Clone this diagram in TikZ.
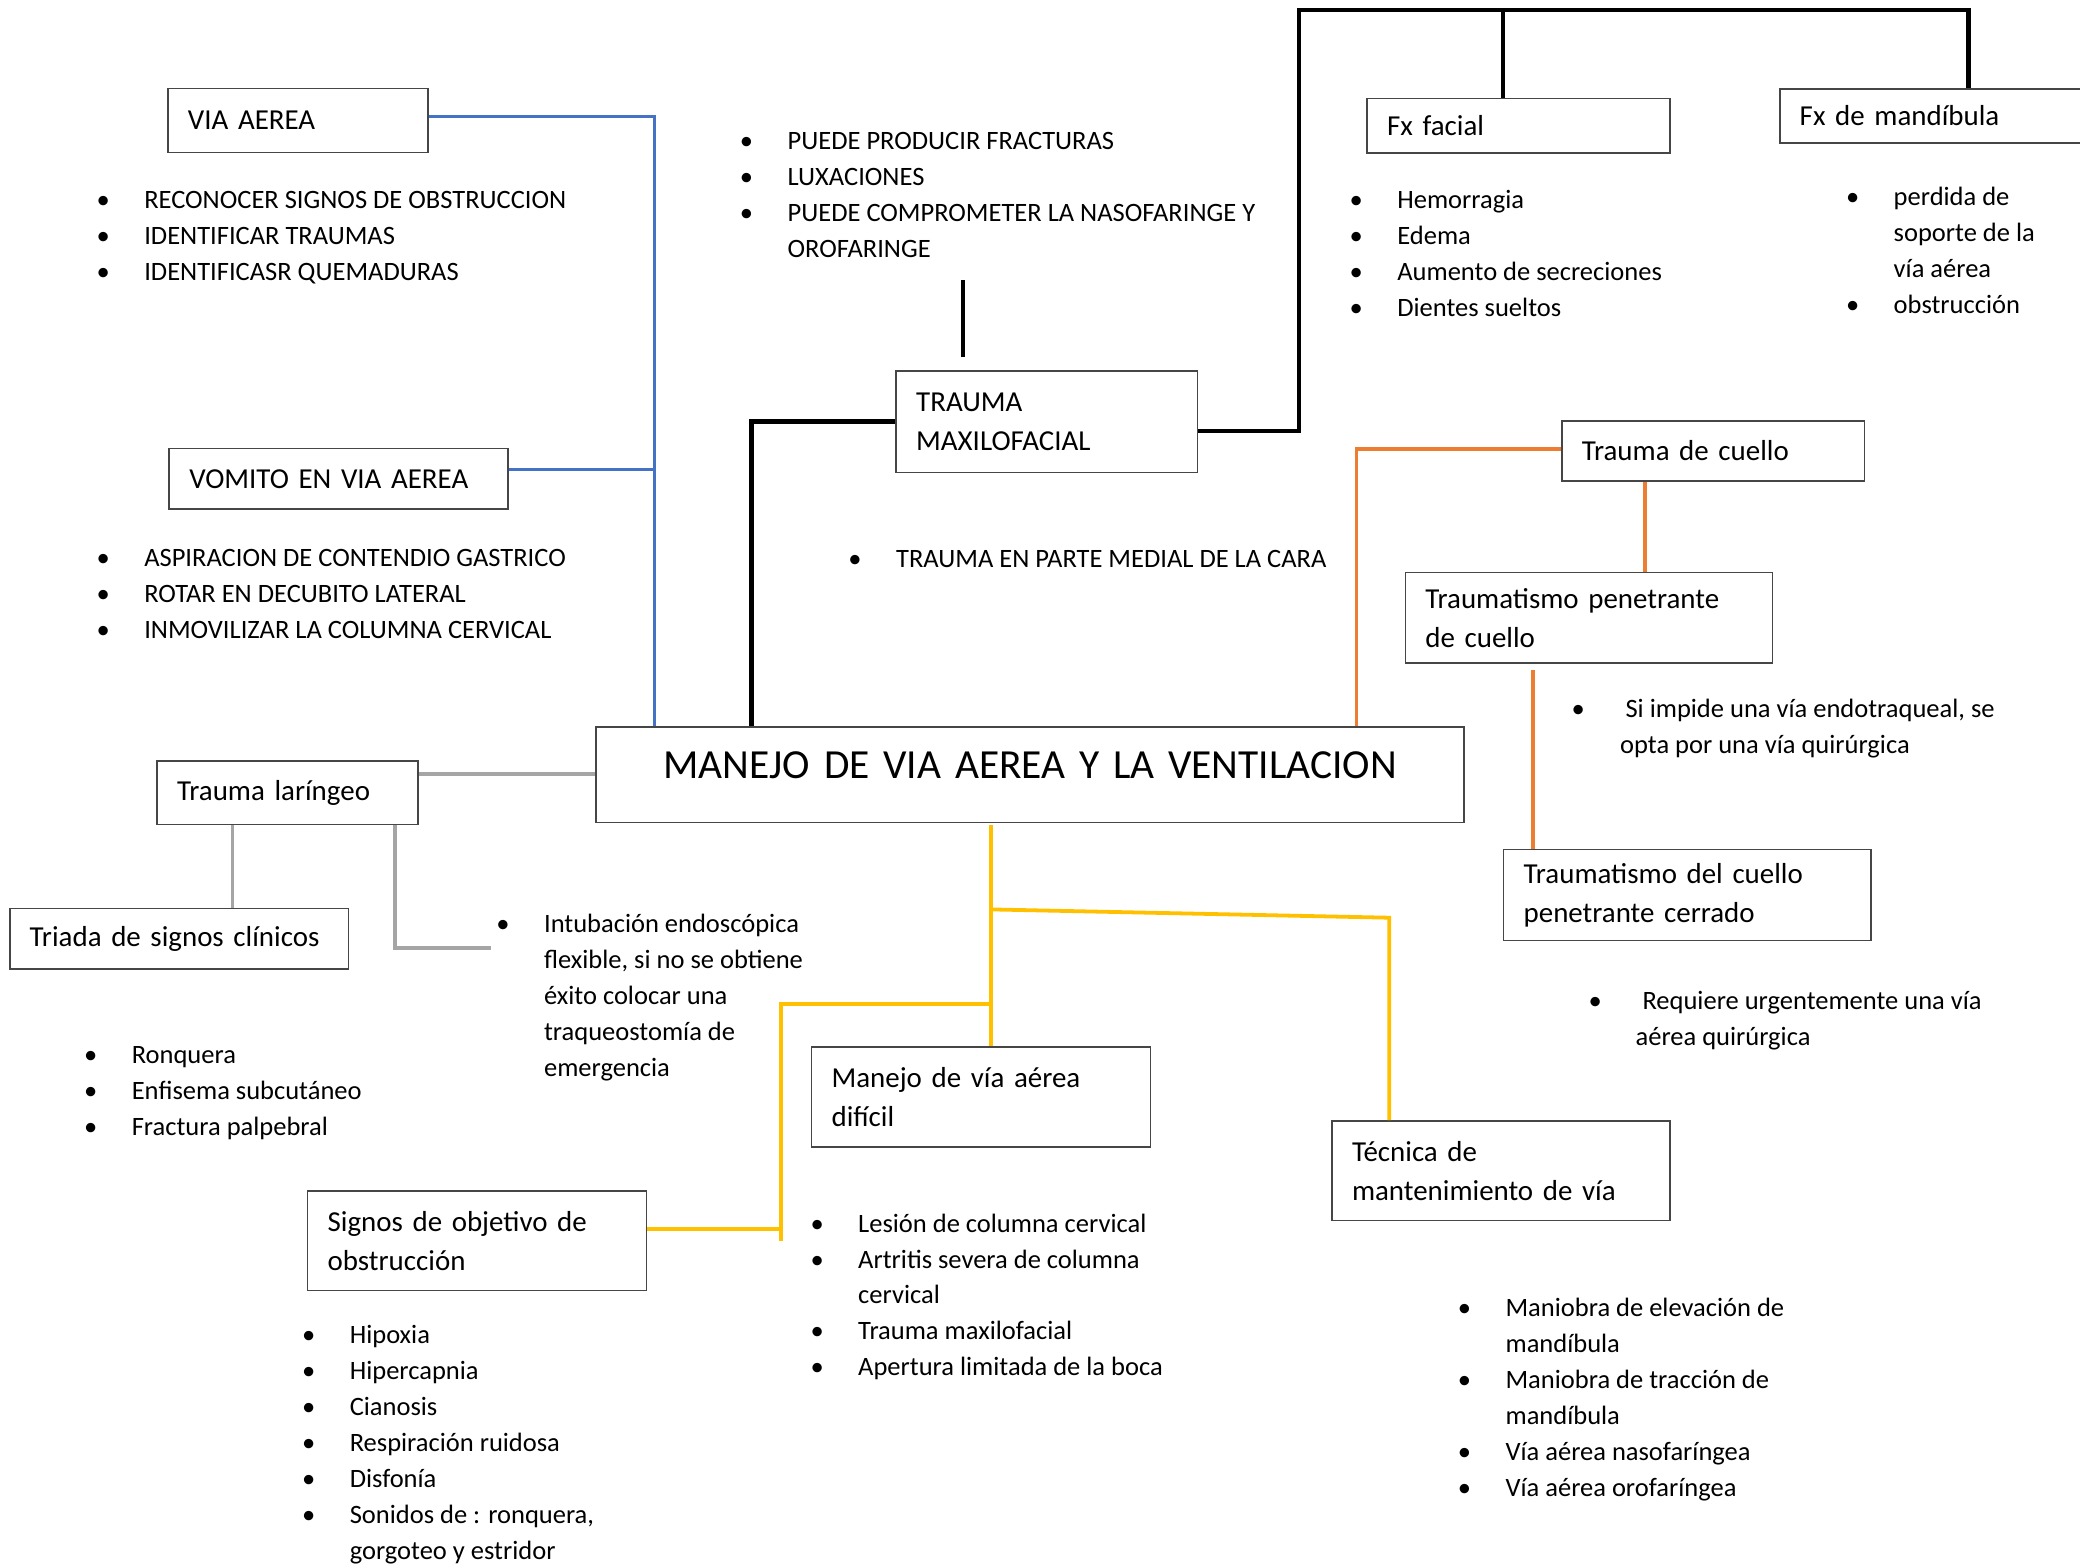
\documentclass[tikz,border=0pt]{standalone}
\usepackage{fontspec}
\setmainfont{Carlito}
\usepackage{color}
\definecolor{azulof}{RGB}{68,114,196}
\definecolor{naranjaof}{RGB}{237,125,49}
\definecolor{amarillof}{RGB}{255,192,0}
\definecolor{grisof}{RGB}{165,165,165}
\definecolor{bordeof}{RGB}{70,70,70}
\usepackage{tikz}
\usetikzlibrary{calc,positioning}
\tikzstyle{caja}=[draw=bordeof,line width=0.6pt,anchor=north west,inner xsep=0.26cm,inner ysep=0pt,align=left,font=\fontsize{10.7}{14.4}\selectfont]
\tikzstyle{lista}=[anchor=base west,inner sep=0pt,align=left,font=\fontsize{9.8}{13.3}\selectfont]
\tikzstyle{azul}=[draw=azulof,line width=1.2pt]
\tikzstyle{negra}=[draw=black,line width=1.7pt]
\tikzstyle{naranja}=[draw=naranjaof,line width=1.4pt]
\tikzstyle{amarilla}=[draw=amarillof,line width=1.4pt]
\tikzstyle{gris}=[draw=grisof,line width=1.3pt]
\newcommand{\bl}[1][0.62cm]{\makebox[#1][l]{\textbullet}}
\newcommand{\sg}[1][0.62cm]{\hspace*{#1}}

\begin{document}
\begin{tikzpicture}[x=0.017245cm,y=-0.017245cm]
\useasboundingbox (0,0) rectangle (1568,1179);
% cajas
\node [caja,text width=2.863cm,minimum height=0.836cm] (via) at (126,66) {VIA AEREA};
\node [caja,text width=3.880cm,minimum height=0.785cm] (vomito) at (127,337.5) {VOMITO EN VIA AEREA};
\node [caja,text width=3.397cm,minimum height=1.319cm] (trauma) at (675,279) {TRAUMA\\MAXILOFACIAL};
\node [caja,text width=3.414cm,minimum height=0.704cm] (fxfacial) at (1030,73.7) {Fx facial};
\node [caja,text width=3.483cm,minimum height=0.702cm] (fxmand) at (1341,66.3) {Fx de mandíbula};
\node [caja,text width=3.414cm,minimum height=0.779cm] (cuello) at (1176.7,316.8) {Trauma de cuello};
\node [caja,text width=4.251cm,minimum height=1.173cm] (pen) at (1058.8,431) {Traumatismo penetrante\\de cuello};
\node [caja,text width=4.251cm,minimum height=1.181cm] (cerrado) at (1132.9,639.9) {Traumatismo del cuello\\penetrante cerrado};
\node [caja,text width=10.763cm,minimum height=1.247cm,align=center,text height=0.5cm,text depth=0.406cm,font=\fontsize{15.3}{18}\selectfont] (manejo) at (448.8,547.2) {MANEJO DE VIA AEREA Y LA VENTILACION};
\node [caja,text width=2.875cm,minimum height=0.828cm] (laringeo) at (117.8,573) {Trauma laríngeo};
\node [caja,text width=3.886cm,minimum height=0.788cm] (triada) at (6.7,684.3) {Triada de signos clínicos};
\node [caja,text width=3.886cm,minimum height=1.297cm] (dificil) at (611.2,788.6) {Manejo de vía aérea\\difícil};
\node [caja,text width=3.877cm,minimum height=1.297cm] (tecnica) at (1003.5,844.3) {Técnica de\\mantenimiento de vía};
\node [caja,text width=3.886cm,minimum height=1.297cm] (signos) at (231.3,897) {Signos de objetivo de\\obstrucción};

% listas (ancladas en la ultima linea)
\node [lista] (lvia) at (72.4,211.4) {\bl RECONOCER SIGNOS DE OBSTRUCCION\\\bl IDENTIFICAR TRAUMAS\\\bl IDENTIFICASR QUEMADURAS};
\node [lista] (lvomito) at (72.4,481.4) {\bl ASPIRACION DE CONTENDIO GASTRICO\\\bl ROTAR EN DECUBITO LATERAL\\\bl INMOVILIZAR LA COLUMNA CERVICAL};
\node [lista] (lfract) at (557.4,194.2) {\bl PUEDE PRODUCIR FRACTURAS\\\bl LUXACIONES\\\bl PUEDE COMPROMETER LA NASOFARINGE Y\\\sg OROFARINGE};
\node [lista] (lmedial) at (639.2,427.9) {\bl TRAUMA EN PARTE MEDIAL DE LA CARA};
\node [lista] (lfacial) at (1017,238.3) {\bl Hemorragia\\\bl Edema\\\bl Aumento de secreciones\\\bl Dientes sueltos};
\node [lista] (lmand) at (1391.2,236.6) {\bl perdida de\\\sg soporte de la\\\sg vía aérea\\\bl obstrucción};
\node [lista] (limpide) at (1184.4,567.8) {\bl[0.70cm]Si impide una vía endotraqueal, se\\\sg[0.63cm]opta por una vía quirúrgica};
\node [lista] (lurge) at (1197.2,788) {\bl[0.70cm]Requiere urgentemente una vía\\\sg[0.61cm]aérea quirúrgica};
\node [lista] (lintub) at (373.8,811.2) {\bl Intubación endoscópica\\\sg flexible, si no se obtiene\\\sg éxito colocar una\\\sg traqueostomía de\\\sg emergencia};
\node [lista] (ltriada) at (63,855.7) {\bl Ronquera\\\bl Enfisema subcutáneo\\\bl Fractura palpebral};
\node [lista] (ldificil) at (610.6,1037.2) {\bl Lesión de columna cervical\\\bl Artritis severa de columna\\\sg cervical\\\bl Trauma maxilofacial\\\bl Apertura limitada de la boca};
\node [lista] (lsignos) at (227.3,1175.6) {\bl Hipoxia\\\bl Hipercapnia\\\bl Cianosis\\\bl Respiración ruidosa\\\bl Disfonía\\\bl Sonidos de : ronquera,\\\sg gorgoteo y estridor};
\node [lista] (ltecnica) at (1098.6,1127.8) {\bl Maniobra de elevación de\\\sg mandíbula\\\bl Maniobra de tracción de\\\sg mandíbula\\\bl Vía aérea nasofaríngea\\\bl Vía aérea orofaríngea};

% conectores
\coordinate (ba) at ($(manejo.north west)+(44.8,0)$);
\draw [azul] ([yshift=1.5pt]via.east) -| (ba);
\draw [azul] ([yshift=3.4pt]vomito.east) -- ([yshift=3.4pt]vomito.east -| ba);

\coordinate (bn) at ($(manejo.north west)+(117.6,0)$);
\coordinate (tope) at (979.2,7.4);
\coordinate (fx1) at ($(fxfacial.north west)+(103,0)$);
\coordinate (fx2) at ($(fxmand.north west)+(143,0)$);
\draw [negra] (bn) |- (trauma.west);
\draw [negra] ([yshift=-3.5pt]trauma.east) -| (tope) -- (tope -| fx2) -- (fx2);
\draw [negra] (tope -| fx1) -- (fx1);
\draw [negra] ($(trauma.north west)+(51,-10)$) -- ($(trauma.north west)+(51,-68)$);

\coordinate (na) at ($(manejo.north west)+(573.8,0)$);
\coordinate (c1) at ($(cuello.south west)+(63.6,0)$);
\coordinate (c2) at ($(pen.south west)+(96.7,5)$);
\draw [naranja] (na) |- ([yshift=0.8pt]cuello.west);
\draw [naranja] (c1) -- (c1 |- pen.north);
\draw [naranja] (c2) -- (c2 |- cerrado.north);

\coordinate (g1) at ($(laringeo.south west)+(57.6,0)$);
\coordinate (g2) at ($(laringeo.south west)+(179.8,0)$);
\coordinate (gi) at ($(lintub.base west)+(-3.4,-96.5)$);
\draw [gris] ([yshift=6.9pt]laringeo.east) -- ([yshift=6.9pt]laringeo.east -| manejo.west);
\draw [gris] (g1) -- (g1 |- triada.north);
\draw [gris] (g2) |- (gi);

\coordinate (am) at ($(manejo.south west)+(298.1,1.5)$);
\coordinate (t1) at ($(tecnica.north west)+(43.7,0)$);
\coordinate (s1) at ($(signos.east)+(100.8,0)$);
\draw [amarilla] (am) -- (am |- dificil.north);
\draw [amarilla] ($(am)+(0,63.3)$) -- ($(t1)+(0,-152.5)$) -- (t1);
\draw [amarilla] ($(am)+(0,134.4)$) -| (s1);
\draw [amarilla] ([yshift=4.4pt]signos.east) -- ([yshift=4.4pt]signos.east -| s1);
\end{tikzpicture}
\end{document}
